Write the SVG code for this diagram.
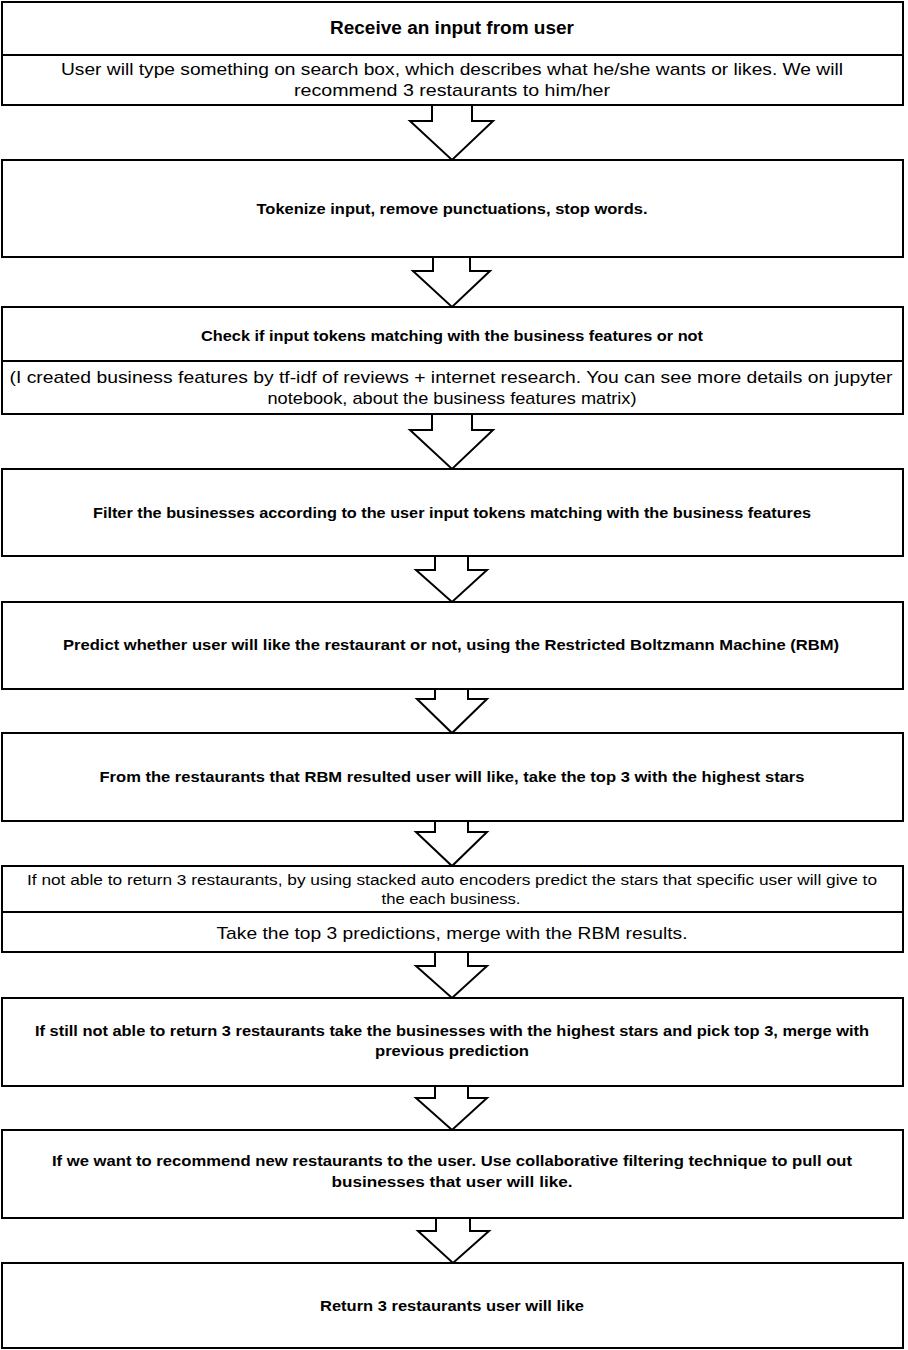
<svg xmlns="http://www.w3.org/2000/svg" width="908" height="1350" viewBox="0 0 908 1350">
<style>
.box{fill:#fff;stroke:#000;stroke-width:2}
.div{stroke:#000;stroke-width:2}
.arr{fill:#fff;stroke:#000;stroke-width:2;stroke-linejoin:miter}
text{font-family:"Liberation Sans",Arial,sans-serif;fill:#000;text-anchor:middle}
.b{font-weight:bold;font-size:15px}
.h{font-weight:bold;font-size:18px}
.r{font-size:17px}
.s{font-size:15.5px}
</style>
<rect width="908" height="1350" fill="#fff"/>
<g id="connectors">
<path class="arr" d="M432,104 V121 H410 L452,160 L493,121 H472 V104"/>
<path class="arr" d="M433,256 V271 H413 L452,307 L490,271 H470 V256"/>
<path class="arr" d="M432,413 V430 H410 L452,469 L493,430 H472 V413"/>
<path class="arr" d="M435,555 V570 H416 L452,602 L487,570 H468 V555"/>
<path class="arr" d="M435,688 V699 H417 L452,733 L487,699 H468 V688"/>
<path class="arr" d="M435,820 V832 H416 L452,866 L487,832 H468 V820"/>
<path class="arr" d="M435,952 V966 H416 L452,998 L487,966 H468 V952"/>
<path class="arr" d="M435,1085 V1098 H416 L452,1130 L487,1098 H468 V1085"/>
<path class="arr" d="M436,1217 V1231 H418 L453,1263 L489,1231 H470 V1217"/>
</g>
<g id="n1">
<rect class="box" x="2" y="2" width="901" height="103"/>
<line class="div" x1="2" y1="55" x2="903" y2="55"/>
<text class="h" x="452" y="34" textLength="244" lengthAdjust="spacingAndGlyphs">Receive an input from user</text>
<text class="r" x="452" y="75" textLength="782" lengthAdjust="spacingAndGlyphs">User will type something on search box, which describes what he/she wants or likes. We will</text>
<text class="r" x="452" y="96" textLength="316" lengthAdjust="spacingAndGlyphs">recommend 3 restaurants to him/her</text>
</g>
<g id="n2">
<rect class="box" x="2" y="160" width="901" height="97"/>
<text class="b" x="452" y="214" textLength="391" lengthAdjust="spacingAndGlyphs">Tokenize input, remove punctuations, stop words.</text>
</g>
<g id="n3">
<rect class="box" x="2" y="307" width="901" height="107"/>
<line class="div" x1="2" y1="361" x2="903" y2="361"/>
<text class="b" x="452" y="341" textLength="502" lengthAdjust="spacingAndGlyphs">Check if input tokens matching with the business features or not</text>
<text class="r" x="451" y="383" textLength="883" lengthAdjust="spacingAndGlyphs">(I created business features by tf-idf of reviews + internet research. You can see more details on jupyter</text>
<text class="r" x="452" y="404" textLength="369" lengthAdjust="spacingAndGlyphs">notebook, about the business features matrix)</text>
</g>
<g id="n4">
<rect class="box" x="2" y="469" width="901" height="87"/>
<text class="b" x="452" y="518" textLength="718" lengthAdjust="spacingAndGlyphs">Filter the businesses according to the user input tokens matching with the business features</text>
</g>
<g id="n5">
<rect class="box" x="2" y="602" width="901" height="87"/>
<text class="b" x="451" y="650" textLength="776" lengthAdjust="spacingAndGlyphs">Predict whether user will like the restaurant or not, using the Restricted Boltzmann Machine (RBM)</text>
</g>
<g id="n6">
<rect class="box" x="2" y="733" width="901" height="88"/>
<text class="b" x="452" y="782" textLength="705" lengthAdjust="spacingAndGlyphs">From the restaurants that RBM resulted user will like, take the top 3 with the highest stars</text>
</g>
<g id="n7">
<rect class="box" x="2" y="866" width="901" height="86"/>
<line class="div" x1="2" y1="912" x2="903" y2="912"/>
<text class="s" x="452" y="885" textLength="850" lengthAdjust="spacingAndGlyphs">If not able to return 3 restaurants, by using stacked auto encoders predict the stars that specific user will give to</text>
<text class="s" x="451" y="904" textLength="139" lengthAdjust="spacingAndGlyphs">the each business.</text>
<text class="r" x="452" y="939" textLength="471" lengthAdjust="spacingAndGlyphs">Take the top 3 predictions, merge with the RBM results.</text>
</g>
<g id="n8">
<rect class="box" x="2" y="998" width="901" height="88"/>
<text class="b" x="452" y="1036" textLength="834" lengthAdjust="spacingAndGlyphs">If still not able to return 3 restaurants take the businesses with the highest stars and pick top 3, merge with</text>
<text class="b" x="452" y="1056" textLength="154" lengthAdjust="spacingAndGlyphs">previous prediction</text>
</g>
<g id="n9">
<rect class="box" x="2" y="1130" width="901" height="88"/>
<text class="b" x="452" y="1166" textLength="800" lengthAdjust="spacingAndGlyphs">If we want to recommend new restaurants to the user. Use collaborative filtering technique to pull out</text>
<text class="b" x="452" y="1187" textLength="241" lengthAdjust="spacingAndGlyphs">businesses that user will like.</text>
</g>
<g id="n10">
<rect class="box" x="2" y="1263" width="901" height="85"/>
<text class="b" x="452" y="1311" textLength="264" lengthAdjust="spacingAndGlyphs">Return 3 restaurants user will like</text>
</g>
</svg>
